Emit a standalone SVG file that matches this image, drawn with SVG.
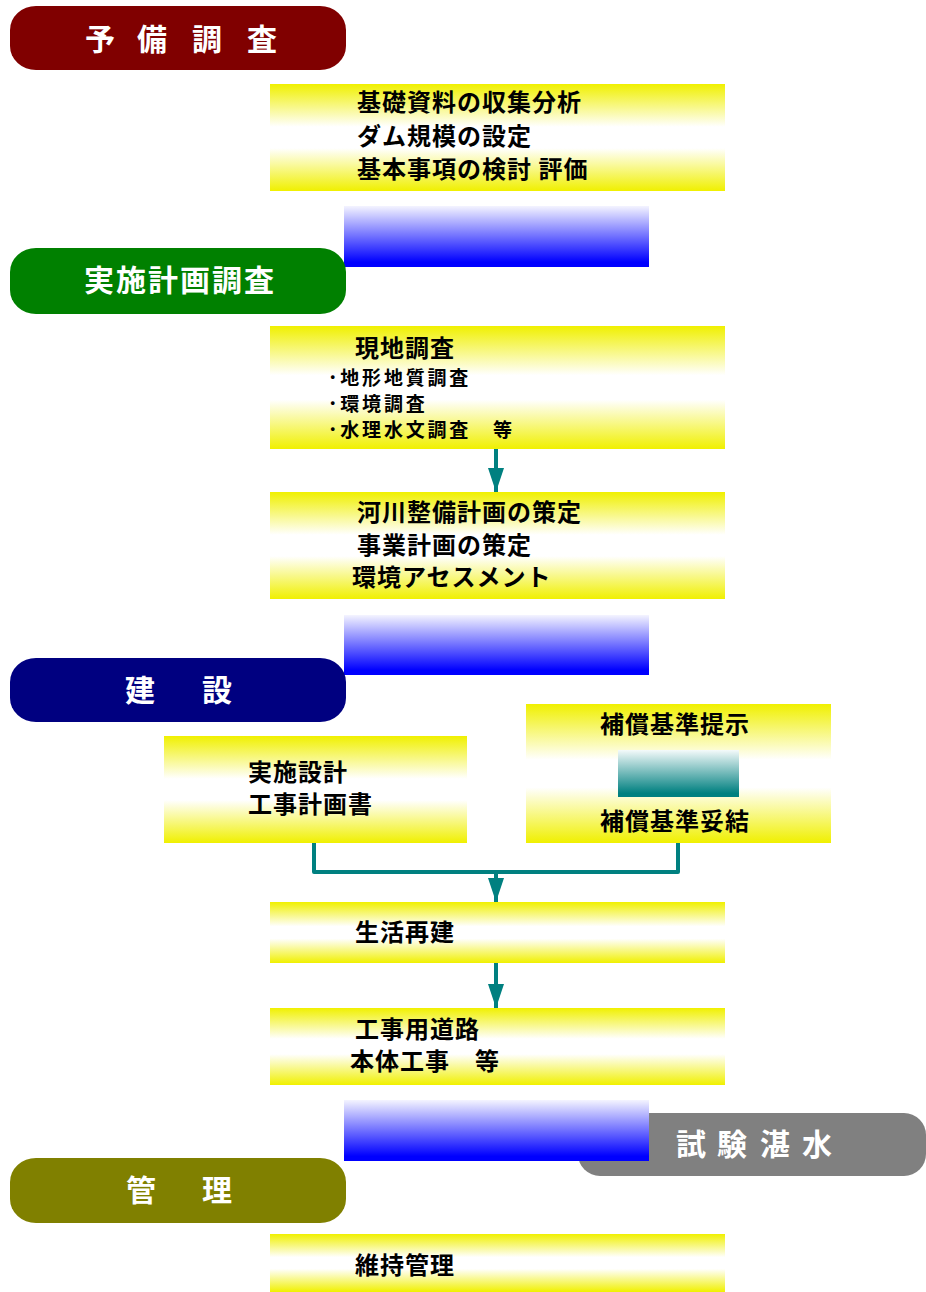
<svg xmlns="http://www.w3.org/2000/svg" width="926" height="1292" viewBox="0 0 926 1292">
<defs>
<linearGradient id="yel" x1="0" y1="0" x2="0" y2="1">
<stop offset="0" stop-color="#F0F000"/>
<stop offset="0.4" stop-color="#FFFFFF"/>
<stop offset="0.6" stop-color="#FFFFFF"/>
<stop offset="1" stop-color="#F0F000"/>
</linearGradient>
<linearGradient id="blu" x1="0" y1="0" x2="0" y2="1">
<stop offset="0" stop-color="#F4F4FF"/>
<stop offset="0.92" stop-color="#0000FF"/>
<stop offset="1" stop-color="#0000FF"/>
</linearGradient>
<linearGradient id="tea" x1="0" y1="0" x2="0" y2="1">
<stop offset="0" stop-color="#F4FAFA"/>
<stop offset="0.92" stop-color="#008080"/>
<stop offset="1" stop-color="#008080"/>
</linearGradient>
<marker id="ah" viewBox="0 0 24 16" refX="24" refY="8" markerWidth="24" markerHeight="16" markerUnits="userSpaceOnUse" orient="auto">
<path d="M0,0 L24,8 L0,16 Z" fill="#008080"/>
</marker>
</defs>
<style>
.box{fill:url(#yel)}
.blk{fill:url(#blu)}
.t{font-family:"Noto Sans CJK JP","Noto Sans CJK SC",sans-serif;font-weight:bold;font-size:24px;letter-spacing:1px;fill:#000}
.s{font-family:"Noto Sans CJK JP","Noto Sans CJK SC",sans-serif;font-weight:bold;font-size:19px;letter-spacing:2.8px;fill:#000}
.h{font-family:"Noto Sans CJK JP","Noto Sans CJK SC",sans-serif;font-weight:bold;font-size:30px;fill:#FFFFFF}
.con{fill:none;stroke:#008080;stroke-width:4}
</style>

<g id="phase-yobi">
<rect x="10" y="6" width="336" height="64" rx="26" ry="24" fill="#800000"/>
<text class="h" x="85 137 192 247" y="50">予備調査</text>
</g>

<g id="box-kiso">
<rect class="box" x="270" y="84" width="455" height="107"/>
<text class="t" x="357" y="111">基礎資料の収集分析</text>
<text class="t" x="357" y="145">ダム規模の設定</text>
<text class="t" x="357" y="178">基本事項の検討 評価</text>
</g>

<g id="step-1"><rect class="blk" x="344" y="206" width="305" height="61"/></g>

<g id="phase-jisshi">
<rect x="10" y="248" width="336" height="66" rx="26" ry="24" fill="#008000"/>
<text class="h" x="180" y="291" text-anchor="middle" letter-spacing="2">実施計画調査</text>
</g>

<g id="box-genchi">
<rect class="box" x="270" y="326" width="455" height="123"/>
<text class="t" x="355" y="357">現地調査</text>
<text class="s" x="328" y="385">･地形地質調査</text>
<text class="s" x="328" y="411">･環境調査</text>
<text class="s" x="328" y="437">･水理水文調査　等</text>
</g>

<g id="box-kasen">
<rect class="box" x="270" y="492" width="455" height="107"/>
<text class="t" x="357" y="521">河川整備計画の策定</text>
<text class="t" x="357" y="554">事業計画の策定</text>
<text class="t" x="352" y="586" letter-spacing="-1">環境アセスメント</text>
</g>

<g id="step-2"><rect class="blk" x="344" y="615" width="305" height="60"/></g>

<g id="phase-kensetsu">
<rect x="10" y="658" width="336" height="64" rx="26" ry="24" fill="#000080"/>
<text class="h" x="125 202" y="701">建設</text>
</g>

<g id="box-sekkei">
<rect class="box" x="164" y="736" width="303" height="107"/>
<text class="t" x="248" y="781">実施設計</text>
<text class="t" x="248" y="813">工事計画書</text>
</g>

<g id="box-hosho">
<rect class="box" x="526" y="704" width="305" height="139"/>
<text class="t" x="600" y="733" letter-spacing="2.3">補償基準提示</text>
<rect x="618" y="750" width="121" height="47" fill="url(#tea)"/>
<text class="t" x="600" y="830" letter-spacing="2.3">補償基準妥結</text>
</g>

<g id="box-seikatsu">
<rect class="box" x="270" y="902" width="455" height="61"/>
<text class="t" x="355" y="941">生活再建</text>
</g>

<g id="box-koji">
<rect class="box" x="270" y="1008" width="455" height="77"/>
<text class="t" x="355" y="1038">工事用道路</text>
<text class="t" x="350" y="1070">本体工事　等</text>
</g>

<g id="phase-tansui">
<rect x="578" y="1113" width="348" height="63" rx="22" ry="22" fill="#808080"/>
<text class="h" x="676 717 760 802" y="1155">試験湛水</text>
</g>

<g id="step-3"><rect class="blk" x="344" y="1100" width="305" height="61"/></g>

<g id="phase-kanri">
<rect x="10" y="1158" width="336" height="65" rx="26" ry="24" fill="#808000"/>
<text class="h" x="126 202" y="1201">管理</text>
</g>

<g id="box-iji">
<rect class="box" x="270" y="1234" width="455" height="58"/>
<text class="t" x="355" y="1274">維持管理</text>
</g>

<g id="connectors">
<line class="con" x1="496" y1="449" x2="496" y2="492" marker-end="url(#ah)"/>
<path class="con" d="M314,843 V872 H678 V843" stroke-linejoin="round"/>
<line class="con" x1="496" y1="872" x2="496" y2="902" marker-end="url(#ah)"/>
<line class="con" x1="496" y1="963" x2="496" y2="1008" marker-end="url(#ah)"/>
</g>
</svg>
